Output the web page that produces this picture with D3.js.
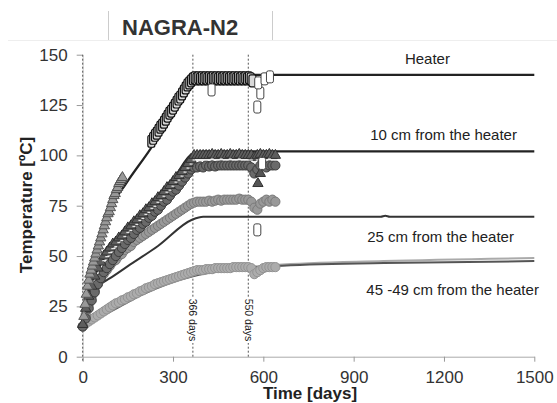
<!DOCTYPE html>
<html>
<head>
<meta charset="utf-8">
<script src="https://cdn.jsdelivr.net/npm/d3@7"></script>
<style>
    body { margin: 0; background: #fff; }
    svg { display: block; font-family: "Liberation Sans", Arial, sans-serif; }
</style>
</head>
<body>
<div id="chart"></div>
<script>
// --- data (days, temperature in degC) ---
const xTicks = [0, 300, 600, 900, 1200, 1500];
const yTicks = [0, 25, 50, 75, 100, 125, 150];
const markerDays = [366, 550];

// sensor rows sampled every 10 days, 0..640
const sensorDays = [0, 10, 20, 30, 40, 50, 60, 70, 80, 90, 100, 110, 120, 130, 140, 150, 160, 170, 180, 190,
    200, 210, 220, 230, 240, 250, 260, 270, 280, 290, 300, 310, 320, 330, 340, 350, 360, 370, 380, 390,
    400, 410, 420, 430, 440, 450, 460, 470, 480, 490, 500, 510, 520, 530, 540, 550, 560, 570, 580, 590,
    600, 610, 620, 630, 640];
const tenUpper = [16, 24, 30, 35, 40, 44, 47, 50, 52, 54, 56, 57, 59, 60, 62, 64, 65, 67, 68, 70,
    71, 73, 74, 76, 77, 79, 80, 82, 84, 85, 87, 89, 90, 92, 94, 96, 98, 100, 100, 100,
    100, 100, 100, 100.5, 100, 100, 100.5, 100, 100, 100.5, 100, 100, 100.5, 100, 100, 100, 100, 99, 100, 100.5,
    100, 100, 100.5, 100, 100];
const tenLower = [15, 19, 24, 28, 32, 36, 39, 42, 44, 46, 48, 50, 52, 54, 56, 58, 59, 61, 63, 64,
    66, 67, 69, 70, 72, 73, 75, 77, 78, 80, 82, 83, 85, 87, 89, 91, 93, 94, 94, 94.5,
    94, 95, 94.5, 95, 94.5, 95, 95, 95, 95, 95, 95, 95, 95, 95, 95, 95, 94, 91, 93, 95,
    95, 94, 95, 95, 95];
const twentyFive = [15, 21, 26, 30, 33, 36, 39, 41, 43, 45, 47, 48, 50, 51, 53, 54, 55, 57, 58, 59,
    60, 61, 62, 63, 64, 65, 66, 67, 68, 69, 70, 71, 72, 73, 74, 75, 76, 76.5, 77, 77,
    77, 77, 77.5, 77, 77.5, 78, 77.5, 78, 78, 78, 78, 78, 78.5, 78, 78, 78, 77, 74, 73, 76,
    77, 78, 77, 78, 77];
const fortyFive = [15, 16.5, 17.5, 18.5, 19.5, 20.5, 21.5, 22.5, 23.5, 24.5, 25.5, 26.5, 27, 28, 28.5, 29.5, 30, 31, 31.5, 32.5,
    33, 34, 34.5, 35, 36, 36.5, 37, 37.5, 38, 38.5, 39, 39.5, 40, 40.5, 41, 41.5, 42, 42.5, 43, 43,
    43, 43.5, 43.5, 43.5, 44, 44, 44, 44, 44, 44, 44.5, 44.5, 44.5, 44.5, 44.5, 44.5, 44, 41, 42, 43,
    44, 44.5, 44.5, 44.5, 44.5];

// heater sensors: early triangles, later white squares
const heaterTriDays = [4, 8, 12, 16, 20, 24, 28, 32, 36, 40, 44, 48, 52, 56, 60, 64, 68, 72, 76, 80,
    84, 88, 92, 96, 100, 104, 108, 112, 116, 120, 124, 128, 132];
const heaterTriTemp = [20, 26, 31, 35, 38, 41, 43, 45, 47, 49, 51, 53, 55, 57, 59, 61, 63, 65, 67, 69,
    71, 72, 74, 76, 78, 80, 81, 83, 84, 86, 87, 88, 89];
const heaterSqDays = [228, 234, 240, 246, 252, 258, 264, 270, 276, 282, 288, 294, 300, 306, 312, 318, 324, 330,
    336, 342, 348, 354, 360, 366, 372, 378, 384, 390, 396, 402, 408, 414, 420, 426, 432, 438, 444, 450,
    456, 462, 468, 474, 480, 486, 492, 498, 504, 510, 516, 522, 528, 534, 540, 546, 552, 558, 564];
const heaterSqTemp = [107, 108.5, 110, 111, 112.5, 114, 115, 116.5, 118, 119.5, 121, 122, 123.5, 125, 126.5, 128, 129, 130.5,
    132, 133.5, 135, 136, 137, 138, 138.5, 138, 138.5, 138, 138.5, 138, 138.5, 138, 138.5, 138, 138.5, 138, 138.5, 138,
    138.5, 138, 138.5, 138, 138.5, 138, 138.5, 138, 138.5, 138, 138.5, 138, 138.5, 138, 138.5, 138, 138.5, 138, 137];
const outlierDays = [428, 580, 590, 583, 604, 622, 596, 580];
const outlierTemp = [132.5, 124, 131, 136, 138, 139, 96, 63];
const tenDropDays = [582, 590];
const tenDropTemp = [86, 91];

// model curves
const heaterModelDays = [0, 10, 20, 40, 60, 94, 144, 224, 300, 366, 380, 1500];
const heaterModelTemp = [20, 30, 38, 50, 60, 74, 86, 103, 121, 138.5, 140, 140];
const tenModelDays = [0, 10, 30, 60, 100, 150, 200, 250, 300, 366, 400, 1500];
const tenModelTemp = [18, 27, 37, 46, 56, 64, 72, 80, 88, 101, 102, 102];
const twentyFiveModelDays = [0, 10, 30, 60, 91, 150, 250, 363, 400, 990, 1005, 1020, 1500];
const twentyFiveModelTemp = [18, 24, 31, 36, 39, 45, 55, 68, 69.5, 69.5, 70, 69.5, 69.5];
const farModelDays = [0, 100, 200, 366, 640, 1000, 1500];
const farModelLight = [15, 24, 32, 41, 45.5, 47.5, 49];
const farModelDark = [15, 23, 31, 40, 45, 46.5, 47.5];

const seriesLabels = ["Heater", "10 cm from the heater", "25 cm from the heater", "45 -49 cm from the heater"];
const labelDays = [1145, 955, 945, 942];
const labelTemp = [145.5, 107.5, 57, 30.5];

const width = 557;
const height = 403;

const x = d3.scaleLinear().domain([0, 1500]).range([82.7, 534.3]);
const y = d3.scaleLinear().domain([0, 150]).range([356.7, 54.7]);

const svg = d3.select("#chart").append("svg")
    .attr("width", width)
    .attr("height", height);

// title box
svg.append("line").attr("x1", 8).attr("x2", width).attr("y1", 40.5).attr("y2", 40.5)
    .style("stroke", "#eee");
svg.selectAll(".box-side")
    .data([108.5, 272.5])
    .enter().append("line")
    .attr("class", "box-side")
    .attr("x1", d => d).attr("x2", d => d)
    .attr("y1", 11).attr("y2", 40)
    .style("stroke", "#ccc");
svg.append("text")
    .attr("x", 122).attr("y", 35)
    .style("font-size", "22px").style("font-weight", "bold").style("fill", "#333")
    .text("NAGRA-N2");

// axes
const xAxis = svg.append("g")
    .attr("transform", "translate(0," + y(0) + ")")
    .call(d3.axisBottom(x).tickValues(xTicks).tickFormat(d3.format("d"))
        .tickSize(5).tickSizeOuter(0).tickPadding(9));
const yAxis = svg.append("g")
    .attr("transform", "translate(" + x(0) + ",0)")
    .call(d3.axisLeft(y).tickValues(yTicks).tickSize(6).tickSizeOuter(0).tickPadding(9));

[xAxis, yAxis].forEach(function (g) {
    g.select(".domain").style("stroke", "#aaa");
    g.selectAll(".tick line").style("stroke", "#999");
    g.selectAll(".tick text")
        .style("font-size", "17px")
        .style("fill", "#333")
        .style("font-family", "'Liberation Sans', Arial, sans-serif");
});
yAxis.select(".domain").style("stroke", "#ccc");

svg.append("text")
    .attr("x", 310).attr("y", 399)
    .attr("text-anchor", "middle")
    .style("font-size", "17px").style("font-weight", "bold").style("fill", "#222")
    .text("Time [days]");
svg.append("text")
    .attr("transform", "translate(32,205) rotate(-90)")
    .attr("text-anchor", "middle")
    .style("font-size", "17px").style("font-weight", "bold").style("fill", "#222")
    .text("Temperature [ºC]");

// dotted reference lines at 0, 366 and 550 days
svg.selectAll(".ref")
    .data([0].concat(markerDays))
    .enter().append("line")
    .attr("class", "ref")
    .attr("x1", d => x(d)).attr("x2", d => x(d))
    .attr("y1", y(150)).attr("y2", d => d === 0 ? y(0) + 5 : y(0))
    .style("stroke", "#555")
    .style("stroke-width", 1)
    .style("stroke-dasharray", "2,2");

// model lines
const line = d3.line()
    .x(d => x(d[0]))
    .y(d => y(d[1]))
    .curve(d3.curveMonotoneX);

const models = [
    {days: farModelDays, temp: farModelLight, color: "#aaa", w: 2},
    {days: farModelDays, temp: farModelDark, color: "#555", w: 2},
    {days: twentyFiveModelDays, temp: twentyFiveModelTemp, color: "#333", w: 2},
    {days: tenModelDays, temp: tenModelTemp, color: "#222", w: 2.2},
    {days: heaterModelDays, temp: heaterModelTemp, color: "#222", w: 2.2}
];
svg.selectAll(".model")
    .data(models)
    .enter().append("path")
    .attr("class", "model")
    .attr("d", m => line(m.days.map((d, i) => [d, m.temp[i]])))
    .style("fill", "none")
    .style("stroke", m => m.color)
    .style("stroke-width", m => m.w);

// measured data
const zip = (days, temp) => days.map((d, i) => [d, temp[i]]);

function circles(data, fill, stroke) {
    svg.append("g").selectAll("circle")
        .data(data)
        .enter().append("circle")
        .attr("cx", d => x(d[0]))
        .attr("cy", d => y(d[1]))
        .attr("r", 4.6)
        .style("fill", fill)
        .style("stroke", stroke)
        .style("stroke-width", 1);
}

function triangles(data, fill, stroke) {
    const tri = d3.symbol().type(d3.symbolTriangle).size(46);
    svg.append("g").selectAll("path")
        .data(data)
        .enter().append("path")
        .attr("transform", d => "translate(" + x(d[0]) + "," + y(d[1]) + ")")
        .attr("d", tri)
        .style("fill", fill)
        .style("stroke", stroke)
        .style("stroke-width", 1);
}

function boxes(data, fill, stroke, sw) {
    svg.append("g").selectAll("rect")
        .data(data)
        .enter().append("rect")
        .attr("x", d => x(d[0]) - 3.5)
        .attr("y", d => y(d[1]) - 6)
        .attr("width", 7)
        .attr("height", 12)
        .attr("rx", 2)
        .style("fill", fill)
        .style("stroke", stroke)
        .style("stroke-width", sw);
}

circles(zip(sensorDays, fortyFive), "#acacac", "#939393");
circles(zip(sensorDays, twentyFive), "#999", "#7a7a7a");
circles(zip(sensorDays, tenLower), "#6a6a6a", "#3c3c3c");
triangles(zip(sensorDays, tenUpper), "#5e5e5e", "#333");

// pale streak inside the 10 cm band
svg.append("g").selectAll("line")
    .data(zip(sensorDays, tenUpper).filter(d => d[0] > 60))
    .enter().append("line")
    .attr("x1", d => x(d[0]) - 1.5).attr("x2", d => x(d[0]) + 1.5)
    .attr("y1", d => y(d[1] - 2.3)).attr("y2", d => y(d[1] - 2.3))
    .style("stroke", "#e6e6e6")
    .style("stroke-width", 1.3);

triangles(zip(tenDropDays, tenDropTemp), "#555", "#333");
triangles(zip(heaterTriDays, heaterTriTemp), "#999", "#555");
boxes(zip(heaterSqDays, heaterSqTemp), "#d8d8d8", "#111", 1.2);
boxes(zip(outlierDays, outlierTemp), "#fff", "#444", 1);

// reference day labels with a white gap in the dotted line
const dayLabel = svg.selectAll(".day-label")
    .data(markerDays)
    .enter().append("g")
    .attr("class", "day-label")
    .attr("transform", d => "translate(" + x(d) + ",320) rotate(90)");
dayLabel.append("rect")
    .attr("x", -23).attr("y", -5).attr("width", 46).attr("height", 10)
    .style("fill", "#fff");
dayLabel.append("text")
    .attr("text-anchor", "middle")
    .attr("dy", "0.35em")
    .style("font-size", "10.5px")
    .style("fill", "#222")
    .text(d => d + " days");

// series labels
svg.selectAll(".series-label")
    .data(seriesLabels)
    .enter().append("text")
    .attr("class", "series-label")
    .attr("x", (d, i) => x(labelDays[i]))
    .attr("y", (d, i) => y(labelTemp[i]))
    .attr("text-anchor", (d, i) => i === 0 ? "middle" : "start")
    .style("font-size", "15px")
    .style("fill", "#222")
    .text(d => d);
</script>
</body>
</html>
